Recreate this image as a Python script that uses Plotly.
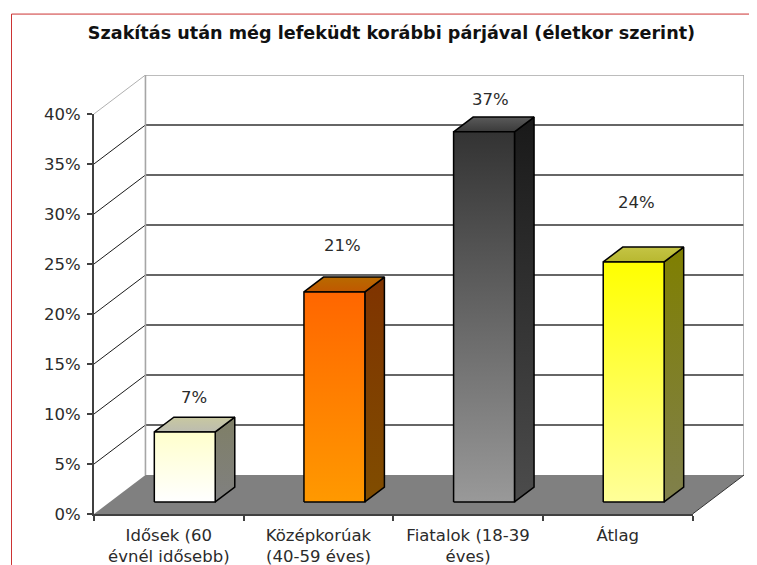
import plotly.graph_objects as go

# ---- data ----
categories = ["Idősek (60<br>évnél idősebb)", "Középkorúak<br>(40-59 éves)", "Fiatalok (18-39<br>éves)", "Átlag"]
values = [7, 21, 37, 24]
value_labels = ["7%", "21%", "37%", "24%"]
y_ticks = [0, 5, 10, 15, 20, 25, 30, 35, 40]
y_tick_labels = ["0%", "5%", "10%", "15%", "20%", "25%", "30%", "35%", "40%"]
title = "Szakítás után még lefeküdt korábbi párjával (életkor szerint)"

# ---- styles ----
face_top = ["#ffffcc", "#ff6600", "#333333", "#ffff00"]
face_bottom = ["#ffffff", "#ff9900", "#999999", "#ffff99"]
side_top = ["#7f7f66", "#7f3300", "#191919", "#7f7f00"]
side_bottom = ["#808080", "#804d00", "#4c4c4c", "#80804d"]
cap_back = ["#c8c8a0", "#b86a00", "#5a5a5a", "#c4c444"]
cap_front = ["#bcbcb0", "#c05800", "#3a3a3a", "#b8b830"]
label_rise = [4.6, 5.8, 4.4, 7.1]       # label height above the bar, in axis units
label_shift = [0.168, 0.163, 0.152, 0.127]

PAGE = 8  # browser body margin
W, H = 757 - PAGE, 565 - PAGE
LEFT, RIGHT_EDGE, TOP, BOTTOM = 94 - PAGE, 744 - PAGE, 74.5 - PAGE, 514 - PAGE
BAND_PX = 149.75
UNIT_PX = 10.02
DX = 51.5 / BAND_PX   # full chart depth, category units
DY = 39 / UNIT_PX     # full chart depth, value units
BAR_W = 0.407
D0, D1 = 0.31, 0.69   # bar depth span
N = len(categories)
FONT = "DejaVu Sans"
TEXT = "#2b2b2b"
FS = 16.5
AXIS = "#404040"


def proj(x, y, d=0.0):
    return x + d * DX, y + d * DY


def poly(points):
    xs, ys = zip(*points)
    return list(xs) + [xs[0]], list(ys) + [ys[0]]


fig = go.Figure()


def line(xs, ys, color, width):
    fig.add_trace(go.Scatter(x=xs, y=ys, mode="lines", cliponaxis=False, hoverinfo="skip",
                             line=dict(color=color, width=width), showlegend=False))


def gradient_poly(points, c_top, c_bottom):
    xs, ys = poly(points)
    fig.add_trace(go.Scatter(
        x=xs, y=ys, mode="lines", fill="toself", cliponaxis=False, hoverinfo="skip",
        fillgradient=dict(type="vertical", colorscale=[[0, c_bottom], [1, c_top]]),
        line=dict(color="#000000", width=1.5), showlegend=False))


y_max = y_ticks[-1]

# floor
fx, fy = poly([proj(0, 0), proj(N, 0), proj(N, 0, 1), proj(0, 0, 1)])
fig.add_trace(go.Scatter(x=fx, y=fy, mode="lines", fill="toself", fillcolor="#808080", cliponaxis=False,
                         hoverinfo="skip", line=dict(color="#808080", width=0), showlegend=False))

# walls and grid
gx_side, gy_side, gx_back, gy_back = [], [], [], []
for v in y_ticks[1:-1]:
    a, b, c = proj(0, v), proj(0, v, 1), proj(N, v, 1)
    gx_side += [a[0], b[0], None]
    gy_side += [a[1], b[1], None]
    gx_back += [b[0], c[0], None]
    gy_back += [b[1], c[1], None]
line(gx_side, gy_side, "#1a1a1a", 1)
line(gx_back, gy_back, "#333333", 1.6)

corner = [proj(0, 0, 1), proj(0, y_max, 1), proj(N, y_max, 1), proj(N, 0, 1)]
line([c[0] for c in corner], [c[1] for c in corner], "#a6a6a6", 1.6)
p, q = proj(0, y_max), proj(0, y_max, 1)
line([p[0], q[0]], [p[1], q[1]], "#b0b0b0", 1)

# floor right edge
p, q = proj(N, 0), proj(N, 0, 1)
line([p[0], q[0]], [p[1], q[1]], "#333333", 1)

# bars
for i, val in enumerate(values):
    x0 = i + 0.5 - BAR_W / 2 + D0 * DX
    x1 = x0 + BAR_W
    dd = D1 - D0
    base = D0 * DY
    top = base + val
    sx, sy = dd * DX, dd * DY
    gradient_poly([(x1, base), (x1, top), (x1 + sx, top + sy), (x1 + sx, base + sy)], side_top[i], side_bottom[i])
    gradient_poly([(x0, top), (x1, top), (x1 + sx, top + sy), (x0 + sx, top + sy)], cap_back[i], cap_front[i])
    gradient_poly([(x0, base), (x1, base), (x1, top), (x0, top)], face_top[i], face_bottom[i])
    fig.add_annotation(x=i + 0.5 + label_shift[i], y=val + label_rise[i], text=value_labels[i], showarrow=False,
                       font=dict(family=FONT, size=FS, color=TEXT), xanchor="center", yanchor="middle")

# invisible trace that carries the visible front axes (x2 / y2)
fig.add_trace(go.Scatter(x=[i + 0.5 for i in range(N)], y=values, xaxis="x2", yaxis="y2", mode="markers",
                         marker=dict(opacity=0), hoverinfo="skip", showlegend=False))

# page frame
frame_color = "#cc3333"
span_x, span_y = RIGHT_EDGE - LEFT, BOTTOM - TOP
fx_left = (11.5 - PAGE - LEFT) / span_x
fy_top = 1 + (TOP - (13.5 - PAGE)) / span_y
fy_bot = 1 - (H - TOP) / span_y
fig.add_shape(type="line", xref="paper", yref="paper", x0=fx_left, x1=fx_left, y0=fy_bot, y1=fy_top,
              line=dict(color=frame_color, width=1))
fig.add_shape(type="line", xref="paper", yref="paper", x0=fx_left, x1=1 + (W - RIGHT_EDGE) / span_x, y0=fy_top, y1=fy_top,
              line=dict(color=frame_color, width=1))

fig.update_layout(
    width=W, height=H, autosize=False,
    margin=dict(l=LEFT, r=W - RIGHT_EDGE, t=TOP, b=H - BOTTOM, pad=0, autoexpand=False),
    paper_bgcolor="white", plot_bgcolor="rgba(0,0,0,0)", showlegend=False,
    font=dict(family=FONT, size=FS, color=TEXT),
    title=dict(text=f"<b>{title}</b>", x=(391.5 - PAGE) / W, xanchor="center", y=1 - (33 - PAGE) / H, yanchor="middle",
               font=dict(family=FONT, size=17.6, color="#111111")),
    # geometry axes: span the whole 3D box, not shown
    xaxis=dict(range=[0, N + DX], visible=False),
    yaxis=dict(range=[0, y_max + DY], visible=False),
    # visible axes: span only the front plane
    xaxis2=dict(domain=[0, N / (N + DX)], range=[0, N], anchor="y2", showgrid=False, zeroline=False,
                showline=True, linecolor=AXIS, linewidth=2, automargin=False,
                tickmode="array", tickvals=[i + 0.5 for i in range(N)], ticktext=categories,
                ticks="", tickangle=0, ticklabelstandoff=5,
                minor=dict(tickmode="array", tickvals=list(range(N + 1)), ticks="outside", ticklen=5,
                           tickwidth=1.5, tickcolor=AXIS, showgrid=False),
                tickfont=dict(family=FONT, size=FS, color=TEXT)),
    yaxis2=dict(domain=[0, y_max / (y_max + DY)], range=[0, y_max], anchor="x2", showgrid=False, zeroline=False,
                showline=True, linecolor=AXIS, linewidth=2, automargin=False,
                tickmode="array", tickvals=y_ticks, ticktext=y_tick_labels,
                ticks="outside", ticklen=5, tickwidth=1.5, tickcolor=AXIS,
                ticklabelstandoff=3,
                tickfont=dict(family=FONT, size=FS, color=TEXT)),
)

fig.write_html("out.html")
